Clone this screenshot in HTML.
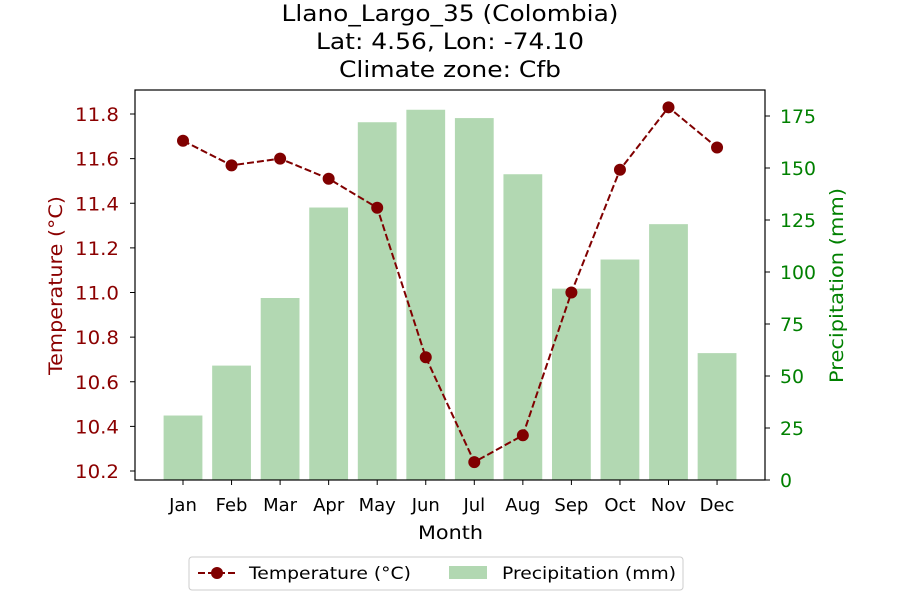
<!DOCTYPE html>
<html><head><meta charset="utf-8">
<style>
body{margin:0;background:#fff;font-family:"Liberation Sans","DejaVu Sans",sans-serif;}
svg text{font-family:"DejaVu Sans","Liberation Sans",sans-serif;}
</style></head>
<body>
<svg id="chart" width="900" height="600"></svg>
<script>
const months=["Jan","Feb","Mar","Apr","May","Jun","Jul","Aug","Sep","Oct","Nov","Dec"];
const temps=[11.68,11.57,11.60,11.51,11.38,10.71,10.24,10.36,11.00,11.55,11.83,11.65];
const precip=[31,55,87.5,131,172,178,174,147,92,106,123,61];
const tempTicks=[10.2,10.4,10.6,10.8,11.0,11.2,11.4,11.6,11.8];
const precipTicks=[0,25,50,75,100,125,150,175];

const NS="http://www.w3.org/2000/svg";
const svg=document.getElementById('chart');
const L=135,R=765,T=90,B=480;
const tMin=10.1597,tMax=11.9076,pMax=187.5;
function xS(i){return 183+i*48.55;}
function yT(v){return B-(v-tMin)/(tMax-tMin)*(B-T);}
function yP(v){return B-v/pMax*(B-T);}
function el(tag,attrs,text){const e=document.createElementNS(NS,tag);for(const k in attrs)e.setAttribute(k,attrs[k]);if(text!==undefined)e.textContent=text;svg.appendChild(e);return e;}

precip.forEach((v,i)=>{
  const b=el('rect',{x:xS(i)-19.4,y:yP(v),width:38.8,height:B-yP(v),fill:'#b2d8b2'});
  
  
});
let d=temps.map((v,i)=>(i?'L':'M')+xS(i)+','+yT(v)).join(' ');
const ln=el('path',{d:d,fill:'none',stroke:'#800000','stroke-width':2,'stroke-dasharray':'7,3'});


temps.forEach((v,i)=>{
  const c=el('circle',{cx:xS(i),cy:yT(v),r:6,fill:'#800000'});
  
  
});
const fr=el('rect',{x:L,y:T,width:R-L,height:B-T,fill:'none',stroke:'#000','stroke-width':1.2});


months.forEach((m,i)=>{
  el('line',{x1:xS(i),x2:xS(i),y1:B,y2:B+5,stroke:'#000'});
  const t=el('text',{x:xS(i),y:B+31,'text-anchor':'middle','font-size':18},m);
  
  
});
tempTicks.forEach(v=>{
  el('line',{x1:L-5,x2:L,y1:yT(v),y2:yT(v),stroke:'#000'});
  const t=el('text',{x:L-16,y:yT(v)+7,'text-anchor':'end','font-size':19,fill:'#8b0000',textLength:44,lengthAdjust:'spacingAndGlyphs'},v.toFixed(1));
  
  
});
precipTicks.forEach(v=>{
  el('line',{x1:R,x2:R+5,y1:yP(v),y2:yP(v),stroke:'#000'});
  const s=String(v);
  const t=el('text',{x:R+15,y:yP(v)+7,'text-anchor':'start','font-size':19,fill:'#008000',textLength:12*s.length,lengthAdjust:'spacingAndGlyphs'},s);
  
  
});
const xt=el('text',{x:418,y:539,'font-size':19,textLength:65,lengthAdjust:'spacingAndGlyphs'},'Month');

const yl=el('text',{x:0,y:0,transform:'translate(62,375) rotate(-90)','font-size':19,fill:'#8b0000',textLength:179,lengthAdjust:'spacingAndGlyphs'},'Temperature (°C)');

const yr=el('text',{x:0,y:0,transform:'translate(843,383) rotate(-90)','font-size':19,fill:'#008000',textLength:195,lengthAdjust:'spacingAndGlyphs'},'Precipitation (mm)');

const titles=["Llano_Largo_35 (Colombia)","Lat: 4.56, Lon: -74.10","Climate zone: Cfb"];
const titleW=[337,268,222];
titles.forEach((s,i)=>{
  const t=el('text',{x:450-titleW[i]/2,y:21+i*28,'font-size':22,textLength:titleW[i],lengthAdjust:'spacingAndGlyphs'},s);
  
});
const lg=el('rect',{x:189,y:557,width:494,height:33,rx:3,fill:'#fff',stroke:'#ccc'});

el('line',{x1:198,x2:236,y1:573,y2:573,stroke:'#800000','stroke-width':2,'stroke-dasharray':'7,3'});
el('circle',{cx:217,cy:573,r:6,fill:'#800000'});
const l1=el('text',{x:249,y:579,'font-size':17,textLength:162,lengthAdjust:'spacingAndGlyphs'},'Temperature (°C)');

el('rect',{x:449,y:566,width:38,height:13,fill:'#b2d8b2'});
const l2=el('text',{x:502,y:579,'font-size':17,textLength:174,lengthAdjust:'spacingAndGlyphs'},'Precipitation (mm)');

</script>
</body></html>
